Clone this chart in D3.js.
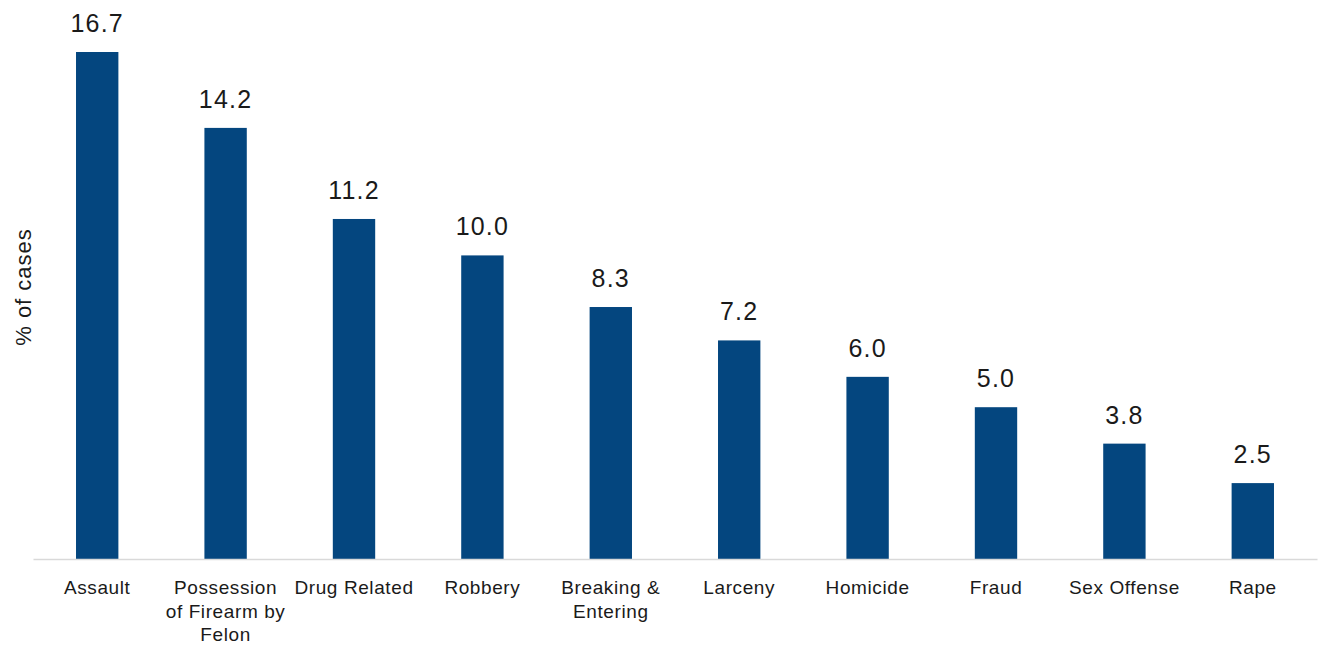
<!DOCTYPE html>
<html>
<head>
<meta charset="utf-8">
<script src="https://cdn.jsdelivr.net/npm/d3@7"></script>
<style>
  html, body { margin: 0; padding: 0; background: #ffffff; }
  svg { display: block; font-family: "Liberation Sans", Arial, sans-serif; }
</style>
</head>
<body>
<svg id="chart" width="1325" height="646"></svg>
<script>
// Offence categories and share of cases (%)
const categories = [
  "Assault", "Possession of Firearm by Felon", "Drug Related", "Robbery",
  "Breaking & Entering", "Larceny", "Homicide", "Fraud", "Sex Offense", "Rape"
];
const values = [16.7, 14.2, 11.2, 10.0, 8.3, 7.2, 6.0, 5.0, 3.8, 2.5];
// Axis tick text, split into display lines
const tickLines = [
  ["Assault"],
  ["Possession", "of Firearm by", "Felon"],
  ["Drug Related"],
  ["Robbery"],
  ["Breaking &", "Entering"],
  ["Larceny"],
  ["Homicide"],
  ["Fraud"],
  ["Sex Offense"],
  ["Rape"]
];
const yTitle = "% of cases";

const svg = d3.select("#chart");
const plotLeft = 33, plotRight = 1317, plotBottom = 559, plotTop = 52;

const x = d3.scaleBand().domain(categories).range([plotLeft, plotRight]).padding(0);
const y = d3.scaleLinear().domain([0, d3.max(values)]).range([plotBottom, plotTop]);
const barW = x.bandwidth() * 0.33;
const barColor = "#04467f";

const data = categories.map((c, i) => ({ c, v: values[i], lines: tickLines[i] }));

// bars
svg.append("g").selectAll("rect").data(data).join("rect")
  .attr("x", d => x(d.c) + (x.bandwidth() - barW) / 2)
  .attr("y", d => y(d.v))
  .attr("width", barW)
  .attr("height", d => plotBottom - y(d.v))
  .attr("fill", barColor);

// baseline axis
const axis = d3.axisBottom(x).tickSize(0).tickFormat("");
const gAxis = svg.append("g").attr("transform", `translate(0,${plotBottom})`).call(axis);
gAxis.select(".domain").attr("stroke", "#d9d9d9").attr("stroke-width", 1.5);

// category labels
const labels = gAxis.selectAll(".tick").append("text")
  .attr("fill", "#1a1a1a")
  .attr("font-size", 19)
  .attr("letter-spacing", 0.6)
  .attr("text-anchor", "middle");
labels.each(function(c) {
  const lines = tickLines[categories.indexOf(c)];
  d3.select(this).selectAll("tspan").data(lines).join("tspan")
    .attr("x", 0)
    .attr("y", (l, j) => 35 + j * 23.5)
    .text(l => l);
});

// value labels
svg.append("g").selectAll("text").data(data).join("text")
  .attr("x", d => x(d.c) + x.bandwidth() / 2)
  .attr("y", d => y(d.v) - 20)
  .attr("text-anchor", "middle")
  .attr("font-size", 25)
  .attr("letter-spacing", 1.2)
  .attr("fill", "#1a1a1a")
  .text(d => d.v.toFixed(1));

// y-axis title
svg.append("text")
  .attr("transform", "translate(31,287) rotate(-90)")
  .attr("text-anchor", "middle")
  .attr("font-size", 22)
  .attr("letter-spacing", 1)
  .attr("fill", "#1a1a1a")
  .text(yTitle);
</script>
</body>
</html>
